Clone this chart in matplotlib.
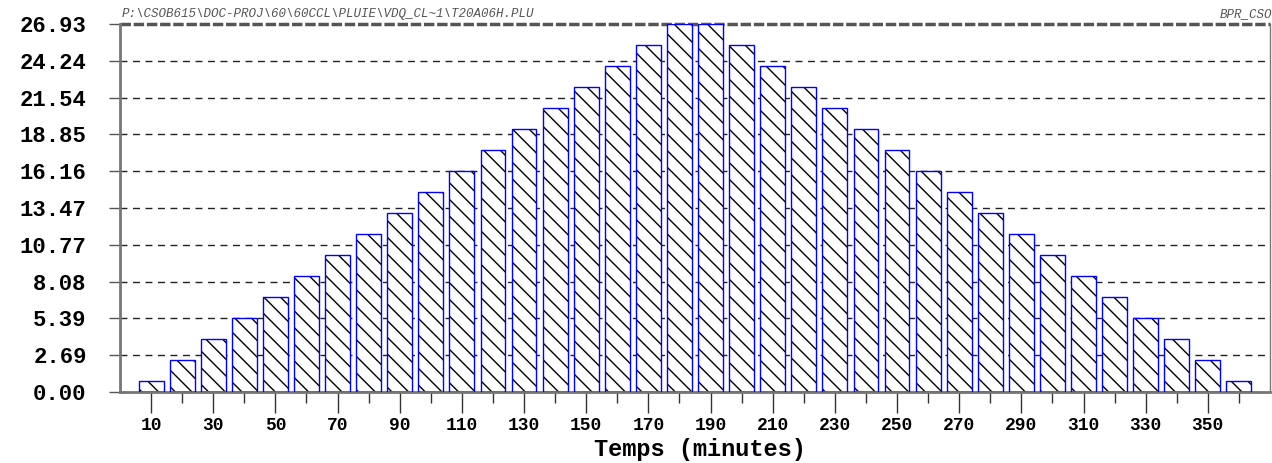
import matplotlib.pyplot as plt
import numpy as np

# pluie de projet, intensite par pas de 10 minutes
temps = [10, 20, 30, 40, 50, 60, 70, 80, 90, 100, 110, 120, 130, 140, 150, 160, 170, 180,
         190, 200, 210, 220, 230, 240, 250, 260, 270, 280, 290, 300, 310, 320, 330, 340, 350, 360]
valeurs = [0.77, 2.31, 3.85, 5.39, 6.93, 8.46, 10.00, 11.54, 13.08, 14.62, 16.16, 17.70,
           19.24, 20.78, 22.31, 23.85, 25.39, 26.93,
           26.93, 25.39, 23.85, 22.31, 20.78, 19.24, 17.70, 16.16, 14.62, 13.08, 11.54,
           10.00, 8.46, 6.93, 5.39, 3.85, 2.31, 0.77]
yticks = [0.00, 2.69, 5.39, 8.08, 10.77, 13.47, 16.16, 18.85, 21.54, 24.24, 26.93]
xlabels = [10, 30, 50, 70, 90, 110, 130, 150, 170, 190, 210, 230, 250, 270, 290, 310, 330, 350]

titre = r"P:\CSOB615\DOC-PROJ\60\60CCL\PLUIE\VDQ_CL~1\T20A06H.PLU"

plt.rcParams['hatch.linewidth'] = 1.0
mono = 'Liberation Mono'

fig = plt.figure(figsize=(12.72, 4.63), dpi=100)
ax = fig.add_axes([120/1272, 71/463, 1150/1272, 368/463])

# grille pointillee derriere les barres
for y in yticks[:-1]:
    ax.axhline(y, color='#222222', lw=1.0, ls=(0, (5, 4)), zorder=1, clip_on=False)
ax.axhline(yticks[-1], color='#555555', lw=2.5, ls=(0, (3, 0.8)), zorder=1, clip_on=False)

# hachures noires puis contour bleu
ax.bar(temps, valeurs, width=8, color='white', edgecolor='black', hatch='\\\\',
       linewidth=0, zorder=2)
ax.bar(temps, valeurs, width=8, fill=False, edgecolor='blue', linewidth=1.0, zorder=3)

ax.set_xlim(0, 370)
ax.set_ylim(0, 26.93)

ax.set_yticks(yticks)
ax.set_yticklabels(['%.2f' % v for v in yticks], fontfamily=mono, fontweight='bold', fontsize=16)
ax.set_xticks(xlabels)
ax.set_xticklabels([str(v) for v in xlabels], fontfamily=mono, fontweight='bold', fontsize=13)
ax.set_xticks(temps[1::2], minor=True)

ax.tick_params(axis='y', length=8, width=1, color='#555555', pad=16)
ax.tick_params(axis='x', which='major', length=15, width=1, color='#333333', pad=3)
ax.tick_params(axis='x', which='minor', length=8, width=1, color='#333333')

for s in ['left', 'right', 'bottom']:
    ax.spines[s].set_color('#777777')
ax.spines['left'].set_linewidth(2)
ax.spines['bottom'].set_linewidth(2)
ax.spines['right'].set_linewidth(1)
ax.spines['top'].set_visible(False)

ax.set_xlabel('Temps (minutes)', fontfamily=mono, fontweight='bold', fontsize=17, labelpad=3)
ax.xaxis.set_label_coords(0.504, -0.125)

fig.text(122/1272, 1 - 14/463, titre, fontfamily=mono, style='italic', fontsize=9,
         color='#555555', va='center', ha='left')
fig.text(1.0, 1 - 14/463, 'BPR_CSO', fontfamily=mono, style='italic', fontsize=9,
         color='#555555', va='center', ha='right')

fig.savefig('out.png', dpi=100)
